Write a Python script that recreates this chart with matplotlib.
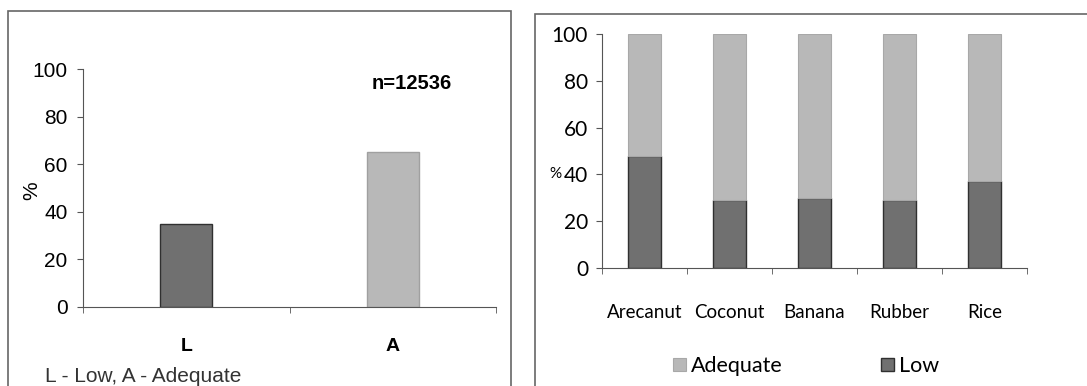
import matplotlib

matplotlib.use("Agg")
import matplotlib.pyplot as plt
from matplotlib.patches import Rectangle

# ---------------------------------------------------------------------------
# Data
# ---------------------------------------------------------------------------
overall_cats = ["L", "A"]
overall_pct = [35, 65]
n_total = 12536

crops = ["Arecanut", "Coconut", "Banana", "Rubber", "Rice"]
low_pct = [48, 29, 30, 29, 37]
adequate_pct = [100 - v for v in low_pct]

DARK = "#707070"
LIGHT = "#b8b8b8"
EDGE = "#303030"

fig = plt.figure(figsize=(10.87, 3.86), dpi=100)

# panel frames
for x0, x1, y0 in [(8, 511, 11), (535, 1090, 14)]:
    fig.patches.append(
        Rectangle((x0 / 1087, -0.01), (x1 - x0) / 1087, (386 - y0) / 386 + 0.01,
                  transform=fig.transFigure, fill=False, ec="#666666", lw=1.2)
    )

# ---------------------------------------------------------------------------
# Left: overall
# ---------------------------------------------------------------------------
axL = fig.add_axes([83 / 1087, 1 - 307 / 386, (496 - 83) / 1087, (307 - 69) / 386])
axL.bar(range(len(overall_cats)), overall_pct, width=0.25,
        color=[DARK, LIGHT], edgecolor=[EDGE, "#a0a0a0"], lw=1.0)
axL.set_xlim(-0.5, len(overall_cats) - 0.5)
axL.set_ylim(0, 100)
axL.set_yticks(range(0, 101, 20))
axL.set_xticks(range(len(overall_cats)))
axL.set_xticklabels(overall_cats, fontweight="bold", fontsize=14, family="Liberation Sans")
axL.set_xticks([-0.5, 0.5, 1.5], minor=True)
axL.tick_params(axis="x", which="major", length=0, pad=22)
axL.tick_params(axis="x", which="minor", length=4, color="#555555")
axL.tick_params(axis="y", length=4, labelsize=15, color="#555555", pad=7)
for lab in axL.get_yticklabels():
    lab.set_family("Liberation Sans")
for s in ("top", "right"):
    axL.spines[s].set_visible(False)
for s in ("left", "bottom"):
    axL.spines[s].set_color("#555555")
axL.set_ylabel("%", fontsize=15, family="Liberation Sans")
axL.yaxis.set_label_coords(-0.10, 0.49)
axL.text(0.795, 0.94, f"n={n_total}", transform=axL.transAxes, ha="center",
         va="center", fontsize=14.5, fontweight="bold", family="Liberation Sans")
fig.text(45 / 1087, 1 - 376 / 386, "L - Low, A - Adequate", fontsize=15,
         family="Liberation Sans", va="center", ha="left", color="#333333")

# ---------------------------------------------------------------------------
# Right: by crop (stacked)
# ---------------------------------------------------------------------------
axR = fig.add_axes([602 / 1087, 1 - 268 / 386, (1027 - 602) / 1087, (268 - 34) / 386])
x = range(len(crops))
axR.bar(x, low_pct, width=0.38, color=DARK, edgecolor=EDGE, lw=1.0, label="Low")
axR.bar(x, adequate_pct, bottom=low_pct, width=0.38, color=LIGHT,
        edgecolor="#a8a8a8", lw=0.8, label="Adequate")
axR.set_xlim(-0.5, len(crops) - 0.5)
axR.set_ylim(0, 100)
axR.set_yticks(range(0, 101, 20))
axR.set_yticklabels(["0", "20", "40", "60", "80", "100"])
axR.set_xticks(list(x))
axR.set_xticklabels(crops, fontsize=13.5, family="Lato")
axR.set_xticks([i - 0.5 for i in range(len(crops) + 1)], minor=True)
axR.tick_params(axis="x", which="major", length=0, pad=26)
axR.tick_params(axis="x", which="minor", length=4, color="#555555")
axR.tick_params(axis="y", length=4, labelsize=15, color="#555555", pad=6)
for lab in axR.get_yticklabels():
    lab.set_family("Lato")
for s in ("top", "right"):
    axR.spines[s].set_visible(False)
for s in ("left", "bottom"):
    axR.spines[s].set_color("#555555")
axR.text(-0.095, 0.4, "%", transform=axR.transAxes, ha="right", va="center",
         fontsize=11, family="Lato")

handles, labels = axR.get_legend_handles_labels()
fig.legend(handles[::-1], labels[::-1], loc="center", ncol=2,
           bbox_to_anchor=(806 / 1087, 1 - 366 / 386), frameon=False,
           prop={"family": "Lato", "size": 15.5}, handlelength=0.6,
           handleheight=0.6, handletextpad=0.2, columnspacing=4.6)

fig.savefig("out.png", dpi=100)
